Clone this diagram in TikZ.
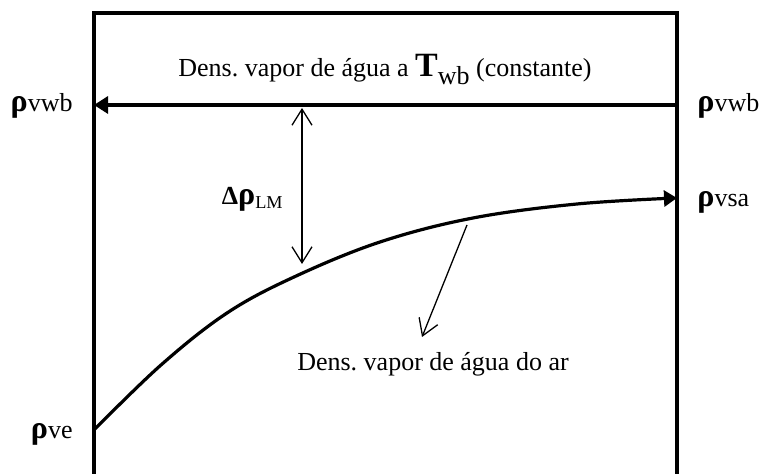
\documentclass[tikz,border=0pt]{standalone}
\usepackage{fontspec}
\setmainfont{Liberation Serif}
\usetikzlibrary{arrows.meta}
\frenchspacing

\newcommand{\rhobig}{{\fontsize{16}{16}\selectfont\textbf{ρ}}}
\newcommand{\dens}[1]{\rhobig#1}

\begin{document}
\begin{tikzpicture}[x=0.5pt,y=-0.5pt,
    wall/.style={line width=1.6pt},
    thinarrow/.style={line width=0.65pt},
    barb/.tip={Straight Barb[length=8pt,width=10pt]},
    lbl/.style={inner sep=0pt, font=\fontsize{13}{15}\selectfont}]
  \useasboundingbox (0,0) rectangle (761,474);

  % Open box
  \coordinate (bl) at (94,474);
  \coordinate (tl) at (94,13);
  \coordinate (tr) at (677,13);
  \coordinate (br) at (677,474);
  \draw[wall] (bl) -- (tl) -- (tr) -- (br);

  % Constant density at T_wb
  \coordinate (wbR) at (677,105);
  \coordinate (wbL) at (94,105);
  \draw[wall, -{Triangle[length=7pt,width=8.5pt]}] (wbR) -- (wbL);
  \node[lbl, anchor=base] (toptxt) at (385,77)
    {Dens. vapor de água a {\fontsize{17}{17}\selectfont\textbf{T}}\raisebox{-0.3em}{wb} (constante)};

  % Air density curve
  \draw[wall, -{Triangle[length=6.5pt,width=8pt]}] plot[smooth, tension=0.6] coordinates {
    (94,430) (161,365) (227,313) (294,277) (380,242) (473,218) (577,204) (677,198)};

  % Log mean difference
  \coordinate (gapTop) at (302,108);
  \coordinate (gapBot) at (302,264);
  \draw[thinarrow, barb-barb] (gapTop) -- (gapBot);
  \node[lbl, anchor=base east] (dlm) at (284,205) {\textbf{Δ}\rhobig\textsubscript{LM}};

  % Pointer to the curve label
  \coordinate (onCurve) at (467,225);
  \coordinate (ptEnd) at (422,337);
  \draw[thinarrow, -barb] (onCurve) -- (ptEnd);
  \node[lbl, anchor=base] (airtxt) at (433,371) {Dens. vapor de água do ar};

  % Side labels
  \node[lbl, anchor=base east] (vwbL) at (73,112) {\dens{vwb}};
  \node[lbl, anchor=base west] (vwbR) at (697,112) {\dens{vwb}};
  \node[lbl, anchor=base west] (vsa) at (697,207) {\dens{vsa}};
  \node[lbl, anchor=base east] (ve) at (73,439) {\dens{ve}};
\end{tikzpicture}
\end{document}
